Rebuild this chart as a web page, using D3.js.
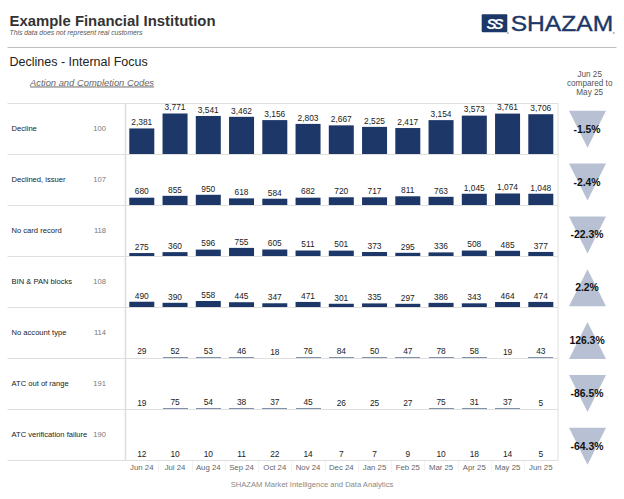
<!DOCTYPE html>
<html><head><meta charset="utf-8">
<script src="https://cdn.jsdelivr.net/npm/d3@7/dist/d3.min.js"></script>
<style>html,body{margin:0;padding:0;background:#fff}svg{display:block}text{font-family:"Liberation Sans",Arial,sans-serif}</style>
</head><body><div id="c"></div>
<script>
const months=["Jun 24","Jul 24","Aug 24","Sep 24","Oct 24","Nov 24","Dec 24","Jan 25","Feb 25","Mar 25","Apr 25","May 25","Jun 25"];
const rowNames=["Decline","Declined, issuer","No card record","BIN & PAN blocks","No account type","ATC out of range","ATC verification failure"];
const rowCodes=["100","107","118","108","114","191","190"];
const decline=[2381,3771,3541,3462,3156,2803,2667,2525,2417,3154,3573,3761,3706];
const issuer=[680,855,950,618,584,682,720,717,811,763,1045,1074,1048];
const noCard=[275,360,596,755,605,511,501,373,295,336,508,485,377];
const binPan=[490,390,558,445,347,471,301,335,297,386,343,464,474];
const noAccount=[29,52,53,46,18,76,84,50,47,78,58,19,43];
const atcRange=[19,75,54,38,37,45,26,25,27,75,31,37,5];
const atcVerify=[12,10,10,11,22,14,7,7,9,10,18,14,5];
const changes=[-1.5,-2.4,-22.3,2.2,126.3,-86.5,-64.3];
const rows=[decline,issuer,noCard,binPan,noAccount,atcRange,atcVerify];

const W=624,H=499;
const svg=d3.select("#c").append("svg").attr("width",W).attr("height",H);
const fmt=d3.format(",");
const navy="#1c3768",grid="#dfdfdf",tri="#b8c1d3";
const txt=(x,y,s,size,fill,anchor,extra)=>{const t=svg.append("text").attr("x",x).attr("y",y).text(s).attr("font-size",size).attr("fill",fill).attr("text-anchor",anchor||"start");if(extra)extra(t);return t;};

// header
txt(9.5,25.5,"Example Financial Institution",14.9,"#333333","start",t=>t.attr("font-weight","bold"));
txt(9.5,35,"This data does not represent real customers",6.8,"#555555","start",t=>t.attr("font-style","italic"));
svg.append("line").attr("x1",7.5).attr("x2",616.5).attr("y1",47.5).attr("y2",47.5).attr("stroke","#c0c0c0").attr("stroke-width",1);
txt(9.5,66,"Declines - Internal Focus",12.5,"#222222");
txt(30,85.5,"Action and Completion Codes",9.4,"#666666","start",t=>t.attr("font-style","italic").attr("text-decoration","underline"));
["Jun 25","compared to","May 25"].forEach((s,i)=>txt(589.7,76.5+i*9.4,s,8.2,"#555555","middle"));

// logo
const logo=svg.append("g");
logo.append("rect").attr("x",481.7).attr("y",14.3).attr("width",25.6).attr("height",18).attr("rx",1).attr("fill",navy);
logo.append("text").attr("x",493.5).attr("y",28.5).attr("text-anchor","middle").attr("font-size",15).attr("font-weight","bold").attr("font-style","italic").attr("letter-spacing",-3).attr("fill","#fff").text("SS");
txt(510.7,31.4,"SHAZAM",21.4,navy,"start",t=>t.attr("textLength",102.5).attr("lengthAdjust","spacingAndGlyphs").attr("stroke",navy).attr("stroke-width",0.35));
logo.selectAll("circle").data([507.8,613.8]).join("circle").attr("cx",d=>d).attr("cy",33).attr("r",0.9).attr("fill","#9aa5bb");

// scales
const x=d3.scaleBand().domain(months).range([125.5,557.1]).paddingInner(0.248).paddingOuter(0.114);
const yRow=d3.scaleBand().domain(rowNames).range([103.5,460.5]);
const yTri=d3.scaleBand().domain(rowNames).range([110.7,110.7+7*52.85]);
const h=d3.scaleLinear().domain([0,3771]).range([0,40.5]);

// grid
[103.5,...rowNames.map(n=>yRow(n)+yRow.bandwidth())].forEach(y=>{
  svg.append("line").attr("x1",7.5).attr("x2",558).attr("y1",y).attr("y2",y).attr("stroke",grid);
});
svg.append("line").attr("x1",125.5).attr("x2",125.5).attr("y1",103).attr("y2",461).attr("stroke",grid).attr("stroke-width",1.6);
svg.append("line").attr("x1",558).attr("x2",558).attr("y1",103).attr("y2",461).attr("stroke",grid);
months.slice(1).forEach(m=>{
  const lx=Math.round(x(m)-x.step()*0.124)+0.5;
  svg.append("line").attr("x1",lx).attr("x2",lx).attr("y1",461).attr("y2",473).attr("stroke","#f3f3f3");
});

// rows
rowNames.forEach((n,i)=>{
  const top=yRow(n),bot=top+yRow.bandwidth()-0.5;
  txt(11.5,top+27.5,n,7.6,"#222222");
  txt(106,top+27.5,rowCodes[i],7.6,"#777777","end");
  const g=svg.append("g");
  g.selectAll("rect").data(rows[i]).join("rect")
    .attr("x",(d,j)=>x(months[j])).attr("width",x.bandwidth())
    .attr("y",d=>h(d)<1?bot-h(d)-0.17:bot-h(d))
    .attr("height",d=>h(d)<1?h(d)+0.17:h(d))
    .attr("shape-rendering",d=>h(d)<1?"crispEdges":null)
    .attr("fill-opacity",d=>h(d)<1?0.55:1)
    .attr("fill",navy);
  g.selectAll("text").data(rows[i]).join("text")
    .attr("x",(d,j)=>x(months[j])+x.bandwidth()/2).attr("y",d=>bot-h(d)-3.2)
    .attr("text-anchor","middle").attr("font-size",8.4).attr("fill","#222222").text(d=>fmt(d));
  // change triangle
  const c=changes[i],tx=587.5,ty=yTri(n),tw=18.5,th=37;
  const p=d3.path();
  if(c>0){p.moveTo(tx,ty);p.lineTo(tx+tw,ty+th);p.lineTo(tx-tw,ty+th);}
  else{p.moveTo(tx-tw,ty);p.lineTo(tx+tw,ty);p.lineTo(tx,ty+th);}
  p.closePath();
  svg.append("path").attr("d",p.toString()).attr("fill",tri);
  txt(587,ty+22,c.toFixed(1)+"%",10.4,"#111111","middle",t=>t.attr("font-weight","bold"));
});

// month labels
months.forEach(m=>txt(x(m)+x.bandwidth()/2,470,m,7.8,"#666666","middle"));
txt(312,487,"SHAZAM Market Intelligence and Data Analytics",7.6,"#888888","middle");
</script></body></html>
